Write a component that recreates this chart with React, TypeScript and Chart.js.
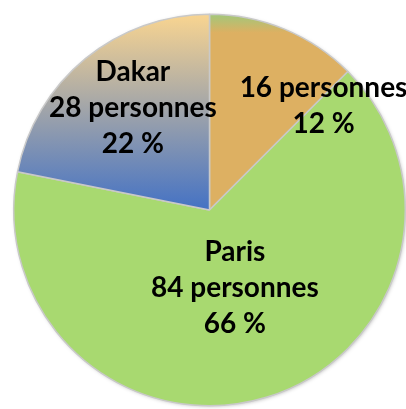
import React, { useEffect, useRef } from "react";
import { Chart, registerables } from "chart.js";

Chart.register(...registerables);

const names = ["", "Paris", "Dakar"];
const values = [16, 84, 28];
const percents = ["12 %", "66 %", "22 %"];
const colors = ["#DDB062", "#A8D970", "#4472C4"];

const labelPlace = [
  { angle: 47.5, r: 0.79 },
  { angle: 162, r: 0.42 },
  { angle: 323, r: 0.65 },
];

const shadowPlugin = {
  id: "pieShadow",
  beforeDatasetsDraw(chart: any) {
    const arc = chart.getDatasetMeta(0).data[0];
    if (!arc) return;
    const ctx = chart.ctx;
    ctx.save();
    ctx.shadowColor = "rgba(0,0,0,0.35)";
    ctx.shadowBlur = 4;
    ctx.shadowOffsetX = 1;
    ctx.shadowOffsetY = 1;
    ctx.fillStyle = "#A8D970";
    ctx.beginPath();
    ctx.arc(arc.x, arc.y, arc.outerRadius - 1, 0, Math.PI * 2);
    ctx.fill();
    ctx.restore();
  },
};

const labelPlugin = {
  id: "sliceLabels",
  afterDatasetsDraw(chart: any) {
    const meta = chart.getDatasetMeta(0);
    const ctx = chart.ctx;
    ctx.save();
    ctx.font = "bold 28px Lato";
    ctx.fillStyle = "#000";
    ctx.textAlign = "center";
    ctx.textBaseline = "middle";
    meta.data.forEach((arc: any, i: number) => {
      const p = labelPlace[i];
      const a = (p.angle * Math.PI) / 180;
      const cx = arc.x + Math.sin(a) * arc.outerRadius * p.r;
      const cy = arc.y - Math.cos(a) * arc.outerRadius * p.r;
      const lines = [names[i], values[i] + " personnes", percents[i]].filter((s) => s);
      const lh = 36;
      lines.forEach((s, k) => {
        ctx.fillText(s, cx, cy + (k - (lines.length - 1) / 2) * lh);
      });
    });
    ctx.restore();
  },
};

export default function App() {
  const ref = useRef<HTMLCanvasElement>(null);
  useEffect(() => {
    document.body.style.margin = "0";
    const chart = new Chart(ref.current!, {
      type: "pie",
      data: {
        labels: names,
        datasets: [
          {
            data: values,
            borderColor: "#C9C9C9",
            borderWidth: 1.5,
            backgroundColor: (c: any) => {
              const chart = c.chart;
              const area = chart.chartArea;
              const i = c.dataIndex;
              if (!area) return colors[i];
              const top = area.top;
              const mid = (area.top + area.bottom) / 2;
              const g = chart.ctx.createLinearGradient(0, top, 0, mid);
              if (i === 0) {
                g.addColorStop(0, "#9DC97C");
                g.addColorStop(0.1, "#DDB062");
                g.addColorStop(1, "#DDB062");
                return g;
              }
              if (i === 2) {
                g.addColorStop(0, "#FAD590");
                g.addColorStop(1, "#4472C4");
                return g;
              }
              return colors[i];
            },
          },
        ],
      },
      options: {
        responsive: false,
        animation: false,
        layout: { padding: { left: 13, top: 13, right: 0, bottom: 2 } },
        plugins: { legend: { display: false }, tooltip: { enabled: false } },
      },
      plugins: [shadowPlugin, labelPlugin],
    });
    return () => chart.destroy();
  }, []);
  return <canvas ref={ref} width={406} height={409} style={{ display: "block" }} />;
}
